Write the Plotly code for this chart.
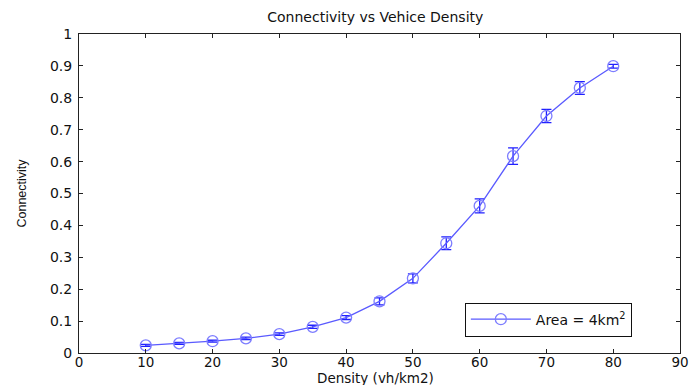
import plotly.graph_objects as go

density = [10, 15, 20, 25, 30, 35, 40, 45, 50, 55, 60, 65, 70, 75, 80]
connectivity = [0.024, 0.030, 0.037, 0.046, 0.059, 0.082, 0.111, 0.162, 0.234, 0.344, 0.461, 0.617, 0.743, 0.831, 0.899]
err = [0.003, 0.003, 0.003, 0.004, 0.004, 0.005, 0.006, 0.011, 0.014, 0.020, 0.022, 0.026, 0.021, 0.020, 0.006]

x_ticks = list(range(0, 91, 10))
y_ticks = [0, 0.1, 0.2, 0.3, 0.4, 0.5, 0.6, 0.7, 0.8, 0.9, 1]
y_labels = ["0", "0.1", "0.2", "0.3", "0.4", "0.5", "0.6", "0.7", "0.8", "0.9", "1"]

font = "DejaVu Sans, Arial, sans-serif"

fig = go.Figure()
fig.add_trace(go.Scatter(
    x=density, y=connectivity,
    mode="lines+markers",
    name="Area = 4km<sup>2</sup>",
    line=dict(color="#5a5aff", width=1.3),
    marker=dict(symbol="circle-open", size=11, color="#7d7dff", line=dict(width=1.3, color="#7d7dff")),
    error_y=dict(type="data", array=err, visible=True, color="#2020ff", thickness=1.3, width=5),
))

axis_common = dict(
    showline=True, linecolor="#222", linewidth=1, mirror="ticks",
    ticks="inside", ticklen=4, tickcolor="#222",
    showgrid=False, zeroline=False, automargin=False,
)

fig.update_layout(
    width=699, height=385,
    margin=dict(l=79, r=19, t=33.5, b=31.5),
    paper_bgcolor="white", plot_bgcolor="white",
    title=dict(text="Connectivity vs Vehice Density", xref="paper", x=0.493, xanchor="center",
               yref="container", y=0.956, yanchor="middle",
               font=dict(family=font, size=14, color="#111")),
    xaxis=dict(range=[0, 90], tickvals=x_ticks, ticklabelstandoff=-3,
               tickfont=dict(family=font, size=13.5, color="#111"), **axis_common),
    yaxis=dict(range=[0, 1], tickvals=y_ticks, ticktext=y_labels, ticklabelstandoff=3,
               tickfont=dict(family=font, size=14, color="#111"),
               title=dict(text="Connectivity", standoff=20,
               font=dict(family="Liberation Sans, Arial, sans-serif", size=12.5, color="#111")), **axis_common),
    legend=dict(x=0.642, y=0.158, xanchor="left", yanchor="top", itemwidth=60,
                bordercolor="#111", borderwidth=1, bgcolor="white",
                font=dict(family=font, size=14, color="#111")),
    showlegend=True,
    annotations=[dict(text="Density (vh/km2)", xref="paper", yref="paper", x=0.493, y=-0.0781,
                      xanchor="center", yanchor="middle", showarrow=False,
                      font=dict(family=font, size=13.5, color="#111"))],
)

fig.write_html("out.html")
